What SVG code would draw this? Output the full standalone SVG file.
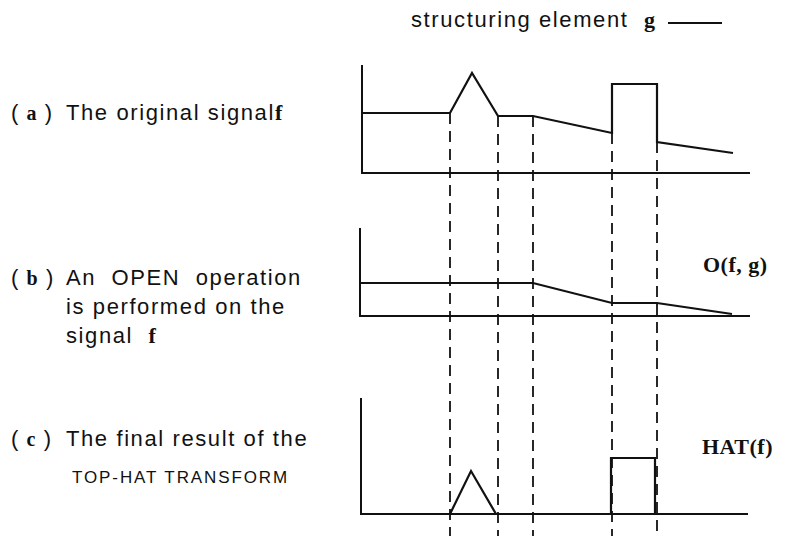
<svg xmlns="http://www.w3.org/2000/svg" width="796" height="536" viewBox="0 0 796 536">
<style>
.sans{font-family:"Liberation Sans",Arial,sans-serif;font-size:22px;letter-spacing:1.6px;fill:#111}
.small{font-family:"Liberation Sans",Arial,sans-serif;font-size:17px;letter-spacing:1.9px;fill:#111}
.ser{font-family:"Liberation Serif","Times New Roman",serif;font-weight:bold;fill:#111}
.lab{font-family:"Liberation Serif","Times New Roman",serif;font-weight:bold;font-size:22px;letter-spacing:0.5px;fill:#111}
.axis{fill:none;stroke:#111;stroke-width:2}
.sig{fill:none;stroke:#111;stroke-width:2.2;stroke-linejoin:miter}
.dash{fill:none;stroke:#111;stroke-width:1.8;stroke-dasharray:11 7}
</style>
<rect width="796" height="536" fill="#fff"/>
<g id="title">
<text class="sans" x="411" y="27" xml:space="preserve">structuring element  <tspan class="ser" font-size="22" letter-spacing="0">g</tspan></text>
<line x1="668" y1="23" x2="722" y2="23" stroke="#111" stroke-width="1.8"/>
</g>
<g id="label-a">
<text class="sans" x="11" y="120" letter-spacing="0">(<tspan class="ser" font-size="20"> a </tspan>)</text>
<text class="sans" x="66" y="120">The original signal<tspan class="ser" font-size="22" letter-spacing="0">f</tspan></text>
</g>
<g id="label-b">
<text class="sans" x="11" y="285" letter-spacing="0">(<tspan class="ser" font-size="20"> b </tspan>)</text>
<text class="sans" x="66" y="285" xml:space="preserve">An  OPEN  operation</text>
<text class="sans" x="66" y="314">is performed on the</text>
<text class="sans" x="66" y="343" xml:space="preserve">signal  <tspan class="ser" font-size="22" letter-spacing="0">f</tspan></text>
</g>
<g id="label-c">
<text class="sans" x="11" y="446" letter-spacing="0">(<tspan class="ser" font-size="20"> c </tspan>)</text>
<text class="sans" x="66" y="446">The final result of the</text>
<text class="small" x="72" y="483">TOP-HAT TRANSFORM</text>
</g>
<g id="plot-a">
<polyline class="axis" points="362,65 362,173 750,173"/>
<polyline class="sig" points="362,113 450,113 472,73 498,116 533,116 612,133 612,84 657,84 657,142 733,153"/>
</g>
<g id="plot-b">
<polyline class="axis" points="360,228 360,316 750,316"/>
<polyline class="sig" points="360,283 533,283 612,303 657,303 732,314"/>
<text class="lab" x="703" y="272">O(f, g)</text>
</g>
<g id="plot-c">
<polyline class="axis" points="361,398 361,514 748,514"/>
<polyline class="sig" points="450,514 471,471 496,514"/>
<polyline class="sig" points="611,514 611,458 655,458 655,514"/>
<text class="lab" x="702" y="454">HAT(f)</text>
</g>
<g id="connectors">
<line class="dash" x1="450" y1="113" x2="450" y2="536"/>
<line class="dash" x1="498" y1="116" x2="498" y2="536"/>
<line class="dash" x1="533" y1="116" x2="533" y2="536"/>
<line class="dash" x1="612" y1="133" x2="612" y2="536"/>
<line class="dash" x1="657" y1="142" x2="657" y2="536"/>
</g>
</svg>
